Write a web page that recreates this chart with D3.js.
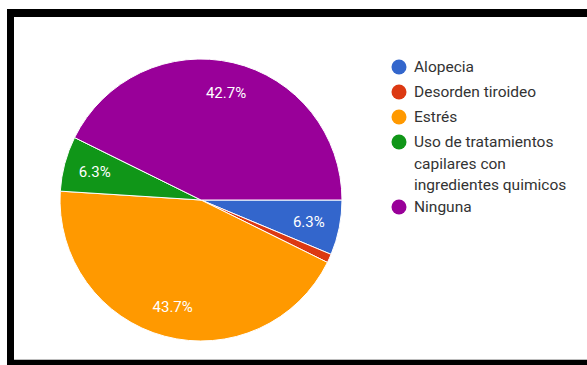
<!DOCTYPE html>
<html>
<head>
<meta charset="utf-8">
<script src="https://cdn.jsdelivr.net/npm/d3@7"></script>
<style>
  html, body { margin: 0; padding: 0; background: #fff; }
  svg { display: block; }
</style>
</head>
<body>
<svg id="chart" width="587" height="365"></svg>
<script>
// Respuestas: causa de caída del cabello
const categories = ["Alopecia", "Desorden tiroideo", "Estrés", "Uso de tratamientos capilares con ingredientes quimicos", "Ninguna"];
const legendLines = [["Alopecia"], ["Desorden tiroideo"], ["Estrés"], ["Uso de tratamientos", "capilares con", "ingredientes quimicos"], ["Ninguna"]];
const values = [6.3, 1.0, 43.7, 6.3, 42.7];
const labels = ["6.3%", "", "43.7%", "6.3%", "42.7%"];
const colors = ["#3366cc", "#dc3912", "#ff9900", "#109618", "#990099"];

const svg = d3.select("#chart");

// Card frame
svg.append("rect").attr("x", 7).attr("y", 9).attr("width", 600).attr("height", 380).attr("fill", "#000");
svg.append("rect").attr("x", 14).attr("y", 17).attr("width", 600).attr("height", 343).attr("fill", "#fff");
svg.append("line").attr("x1", 14).attr("x2", 587).attr("y1", 359.5).attr("y2", 359.5)
  .attr("stroke", "#bdbdbd").attr("stroke-width", 1);

const cx = 201, cy = 200, r = 141;
const color = d3.scaleOrdinal().domain(categories).range(colors);

// Slices start at 3 o'clock and run clockwise
const pie = d3.pie().sort(null).value(d => d.value)
  .startAngle(Math.PI / 2).endAngle(Math.PI / 2 + 2 * Math.PI);
const data = categories.map((c, i) => ({ cat: c, value: values[i], label: labels[i] }));
const arcs = pie(data);
const arc = d3.arc().innerRadius(0).outerRadius(r);
const labelArc = d3.arc().innerRadius(r * 0.78).outerRadius(r * 0.78);

const g = svg.append("g").attr("transform", `translate(${cx},${cy})`);
g.selectAll("path.slice").data(arcs).join("path")
  .attr("class", "slice")
  .attr("d", arc)
  .attr("fill", d => color(d.data.cat))
  .attr("stroke", "#fff")
  .attr("stroke-width", 1);

g.selectAll("text.pct").data(arcs.filter(d => d.data.label)).join("text")
  .attr("class", "pct")
  .attr("transform", d => `translate(${labelArc.centroid(d)})`)
  .attr("text-anchor", "middle")
  .attr("dy", "0.35em")
  .attr("font-family", "Roboto, Arial, sans-serif")
  .attr("font-size", 15)
  .attr("fill", "#fff")
  .text(d => d.data.label);

// Legend
const legendX = 399;
const legendY = [67, 92, 117, 142, 207];
const lineH = 21.5;
const leg = svg.append("g").attr("font-family", "Roboto, Arial, sans-serif").attr("font-size", 15.5);
categories.forEach((c, i) => {
  const row = leg.append("g").attr("transform", `translate(${legendX},${legendY[i]})`);
  row.append("circle").attr("r", 7.5).attr("fill", color(c));
  const t = row.append("text").attr("x", 15).attr("fill", "#333");
  legendLines[i].forEach((ln, j) => {
    t.append("tspan").attr("x", 15).attr("y", j * lineH).attr("dy", "0.35em").text(ln);
  });
});
</script>
</body>
</html>
